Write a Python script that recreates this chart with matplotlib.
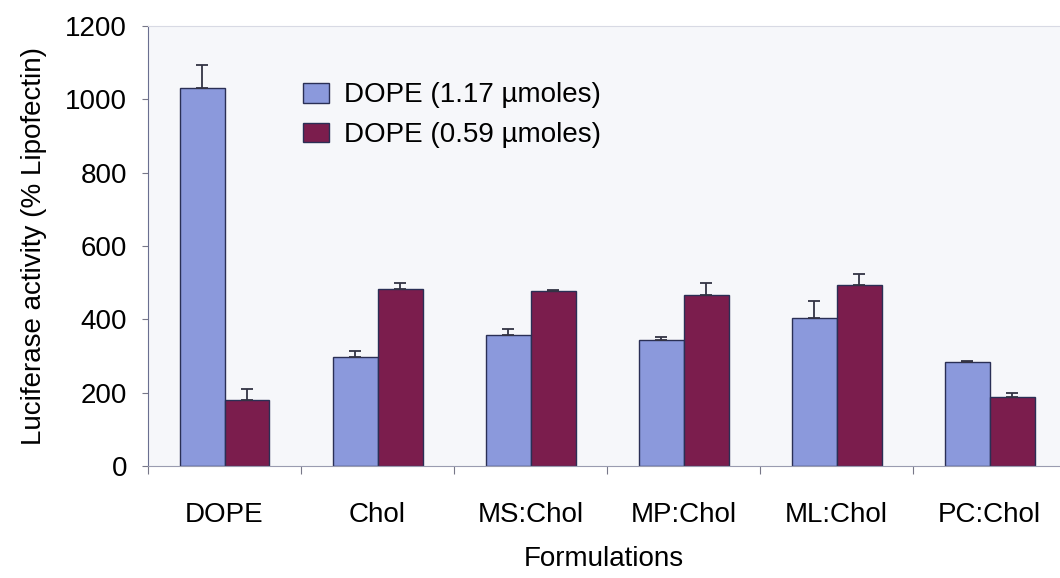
import numpy as np
import matplotlib.pyplot as plt

# Luciferase activity for each lipid formulation
formulations = ['DOPE', 'Chol', 'MS:Chol', 'MP:Chol', 'ML:Chol', 'PC:Chol']
dope_117 = [1030, 296, 357, 344, 405, 284]
dope_117_err = [64, 18, 18, 9, 44, 2]
dope_059 = [180, 483, 478, 467, 495, 187]
dope_059_err = [29, 17, 3, 31, 30, 11]
series_names = ['DOPE (1.17 \u00b5moles)', 'DOPE (0.59 \u00b5moles)']

plt.rcParams['font.family'] = ['Liberation Sans', 'DejaVu Sans']
fs = 20

fig = plt.figure(figsize=(10.6, 5.78), dpi=100)
fig.patch.set_facecolor('#ffffff')
ax = fig.add_axes([148 / 1060, 1 - 466 / 578, 1 - 148 / 1060, 440 / 578])
ax.set_facecolor('#f6f7fa')

x = np.arange(len(formulations))
w = 0.294
edge = '#2a2f55'
ax.bar(x - w / 2, dope_117, w, color='#8b99dc', edgecolor=edge, linewidth=1.0,
       label=series_names[0], zorder=2)
ax.bar(x + w / 2, dope_059, w, color='#7b1d4d', edgecolor=edge, linewidth=1.0,
       label=series_names[1], zorder=2)
ax.errorbar(x - w / 2, dope_117, yerr=[np.zeros(6), dope_117_err], fmt='none',
            ecolor='#333344', elinewidth=1.3, capsize=4, capthick=1.3, zorder=3)
ax.errorbar(x + w / 2, dope_059, yerr=[np.zeros(6), dope_059_err], fmt='none',
            ecolor='#333344', elinewidth=1.3, capsize=4, capthick=1.3, zorder=3)

ax.set_xlim(-0.5, 5.46)
ax.set_ylim(0, 1200)
ax.set_yticks(range(0, 1201, 200))

# category ticks sit between groups, labels at group centres
ax.set_xticks(np.arange(-0.5, 5.5, 1.0))
ax.set_xticklabels([])
ax.set_xticks(x, minor=True)
ax.set_xticklabels(formulations, minor=True)
ax.tick_params(axis='x', which='minor', length=0, pad=26, labelsize=fs)
ax.tick_params(axis='x', which='major', length=6, color='#777788')
ax.tick_params(axis='y', length=4, color='#777788', labelsize=fs, pad=11)

ax.spines['right'].set_visible(False)
ax.spines['top'].set_color('#d8dae4')
ax.spines['left'].set_color('#6a6f90')
ax.spines['bottom'].set_color('#9a9cb0')

ax.set_ylabel('Luciferase activity (% Lipofectin)', fontsize=fs, labelpad=13)
ax.set_xlabel('Formulations', fontsize=fs, labelpad=13)

ax.legend(loc='upper left', bbox_to_anchor=(0.170, 0.872), frameon=False,
          fontsize=fs, handlelength=0.94, handleheight=0.72, handletextpad=0.55,
          labelspacing=0.5, borderaxespad=0, borderpad=0)

fig.savefig('out.png', dpi=100)
